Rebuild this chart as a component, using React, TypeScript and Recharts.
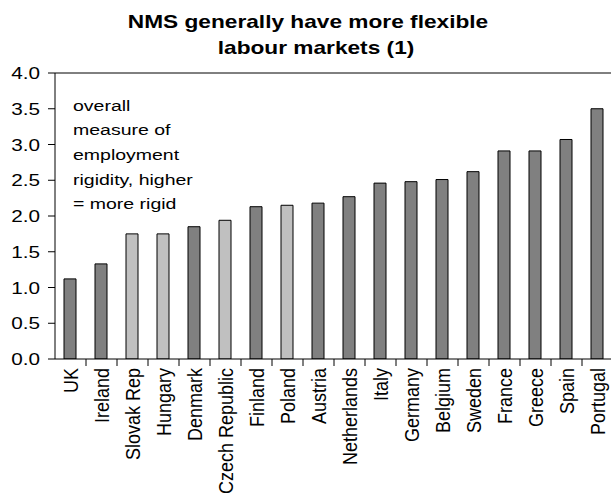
import React from "react";
import { BarChart, Bar, XAxis, YAxis, Cell, ReferenceLine } from "recharts";

// Employment rigidity index by country (higher = more rigid)
const countries = [
  "UK", "Ireland", "Slovak Rep", "Hungary", "Denmark", "Czech Republic",
  "Finland", "Poland", "Austria", "Netherlands", "Italy", "Germany",
  "Belgium", "Sweden", "France", "Greece", "Spain", "Portugal",
];
const rigidity = [
  1.12, 1.33, 1.75, 1.75, 1.85, 1.94, 2.13, 2.15, 2.18, 2.27, 2.46, 2.48,
  2.51, 2.62, 2.91, 2.91, 3.07, 3.5,
];
// New member states are drawn in the lighter shade
const newMemberStates = ["Slovak Rep", "Hungary", "Czech Republic", "Poland"];
const yTicks = [0, 0.5, 1, 1.5, 2, 2.5, 3, 3.5, 4];
const titleLines = ["NMS generally have more flexible", "labour markets (1)"];
const noteLines = [
  "overall",
  "measure of",
  "employment",
  "rigidity, higher",
  "= more rigid",
];

// Each country occupies one unit slot on the x axis; bars sit in the middle
const data = countries.map((name, i) => ({ name, slot: i + 0.5, value: rigidity[i] }));
// Slot edges carry the x-axis tick marks; each label sits in the slot to its right
const slotEdges = countries.map((_, i) => i);

const FONT = "'Liberation Sans', Arial, sans-serif";
const CHART_W = 613;
const CHART_H = 494;
const PLOT_LEFT = 55;
const PLOT_RIGHT = 613;
const PLOT_TOP = 73;
const PLOT_BOTTOM = 359;
const STEP = (PLOT_RIGHT - PLOT_LEFT) / countries.length;
const Y_MAX = 4;
const TICK_PX = 7;
// tick mark length expressed in each axis' data units
const X_TICK_LEN = (TICK_PX * countries.length) / (PLOT_RIGHT - PLOT_LEFT);
const Y_TICK_LEN = (TICK_PX * Y_MAX) / (PLOT_BOTTOM - PLOT_TOP);

const XTick = (props: any) => {
  const { x, y, payload } = props;
  const name = countries[payload.value];
  if (!name) return null;
  return (
    <text
      transform={`translate(${x + STEP / 2 + 7}, ${y + 1}) scale(1.12, 1) rotate(-90)`}
      textAnchor="end"
      fontFamily={FONT}
      fontSize={18}
      fill="#000"
    >
      {name}
    </text>
  );
};

const YTick = (props: any) => {
  const { y, payload } = props;
  return (
    <text
      transform={`translate(40, ${y}) scale(1.22, 1)`}
      textAnchor="end"
      dy="0.36em"
      fontFamily={FONT}
      fontSize={17}
      fill="#000"
    >
      {Number(payload.value).toFixed(1)}
    </text>
  );
};

export default function App() {
  return (
    <div
      style={{
        position: "absolute",
        left: 0,
        top: 0,
        width: 611,
        height: 494,
        overflow: "hidden",
        background: "#fff",
      }}
    >
      <BarChart
        width={CHART_W}
        height={CHART_H}
        data={data}
        margin={{ top: PLOT_TOP, right: CHART_W - PLOT_RIGHT, bottom: 0, left: 0 }}
      >
        <XAxis
          dataKey="slot"
          type="number"
          domain={[0, countries.length]}
          allowDataOverflow
          ticks={slotEdges}
          interval={0}
          height={CHART_H - PLOT_BOTTOM}
          axisLine={{ stroke: "#000", strokeWidth: 1 }}
          tickLine={false}
          tick={<XTick />}
        />
        <YAxis
          width={PLOT_LEFT}
          domain={[0, Y_MAX]}
          allowDataOverflow
          ticks={yTicks}
          interval={0}
          axisLine={{ stroke: "#000", strokeWidth: 1 }}
          tickLine={false}
          tick={<YTick />}
        />
        <ReferenceLine y={Y_MAX} stroke="#000" strokeWidth={1} ifOverflow="visible" />
        {/* x-axis tick marks between the country slots */}
        {slotEdges.slice(1).map((e) => (
          <ReferenceLine
            key={`xt-${e}`}
            segment={[
              { x: e, y: 0 },
              { x: e, y: -Y_TICK_LEN },
            ]}
            stroke="#000"
            strokeWidth={1}
            ifOverflow="visible"
          />
        ))}
        {/* y-axis tick marks */}
        {yTicks.map((t) => (
          <ReferenceLine
            key={`yt-${t}`}
            segment={[
              { x: -X_TICK_LEN, y: t },
              { x: 0, y: t },
            ]}
            stroke="#000"
            strokeWidth={1}
            ifOverflow="visible"
          />
        ))}
        <Bar dataKey="value" barSize={12} stroke="#000" strokeWidth={1} isAnimationActive={false}>
          {data.map((d) => (
            <Cell key={d.name} fill={newMemberStates.includes(d.name) ? "#C0C0C0" : "#808080"} />
          ))}
        </Bar>
      </BarChart>
      <svg
        width={611}
        height={494}
        style={{ position: "absolute", left: 0, top: 0, pointerEvents: "none" }}
      >
        <text
          transform="translate(308, 28) scale(1.26, 1)"
          textAnchor="middle"
          fontFamily={FONT}
          fontWeight="bold"
          fontSize={18}
          fill="#000"
        >
          {titleLines[0]}
        </text>
        <text
          transform="translate(316, 54) scale(1.26, 1)"
          textAnchor="middle"
          fontFamily={FONT}
          fontWeight="bold"
          fontSize={18}
          fill="#000"
        >
          {titleLines[1]}
        </text>
        {noteLines.map((line, i) => (
          <text
            key={line}
            transform={`translate(73, ${110.5 + i * 24.7}) scale(1.3, 1)`}
            fontFamily={FONT}
            fontSize={15}
            fill="#000"
          >
            {line}
          </text>
        ))}
      </svg>
    </div>
  );
}
